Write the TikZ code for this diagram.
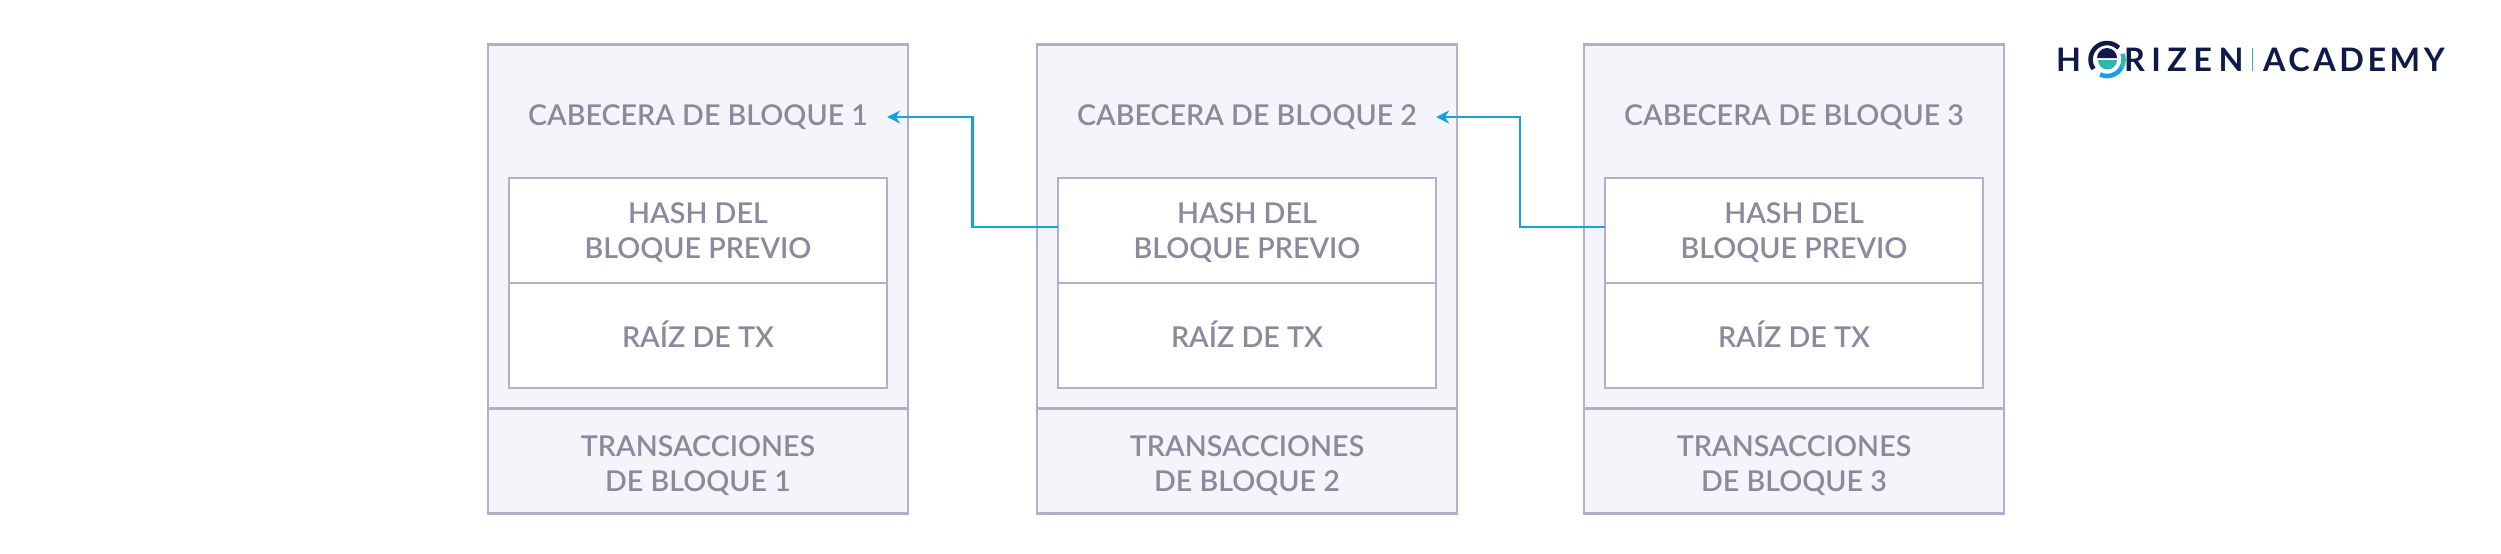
\documentclass[tikz,border=0pt]{standalone}
\usepackage{fontspec}
\setmainfont{Lato Semibold}
\newfontfamily\logofont[LetterSpace=20]{Lato Bold}
\newfontfamily\logotight[LetterSpace=11]{Lato Bold}
\usetikzlibrary{arrows.meta}
\definecolor{boxline}{HTML}{B0B0C6}
\definecolor{boxfill}{HTML}{F4F5FA}
\definecolor{boxtext}{HTML}{8A8A9C}
\definecolor{linkblue}{HTML}{1A9FE4}
\definecolor{logonavy}{HTML}{0E1B48}
\definecolor{logoteal}{HTML}{2FB5B0}
\tikzset{
    outerbox/.style={draw=boxline, fill=boxfill, line width=0.65pt, inner sep=0pt, outer sep=0pt, minimum width=4.2cm, text=boxtext, align=center, text depth=0pt, font=\fontsize{8.15}{10}\selectfont},
    innerbox/.style={outerbox, fill=white, minimum width=3.78cm, minimum height=1.05cm},
    boxlabel/.style={inner sep=0pt, outer sep=0pt, text=boxtext, align=center, font=\fontsize{8.15}{10}\selectfont},
    titletext/.style={boxlabel, minimum width=3.78cm, text height=5.8pt, text depth=1.15pt},
    linkarrow/.style={draw=linkblue, line width=0.65pt, -{Stealth[length=3.7pt,width=3.7pt]}},
    logotext/.style={inner sep=0pt, outer sep=0pt, anchor=west, text=logonavy, font=\logofont\fontsize{9.2}{10}\selectfont}
}
\begin{document}
\begin{tikzpicture}[x=0.01cm,y=-0.01cm]
    \useasboundingbox (0,0) rectangle (2501,553);

    % first block
    \node[outerbox, minimum height=3.64cm] (head1) at (698,226.5) {};
    \node[outerbox, minimum height=1.05cm] (txs1) at (698,461) {};
    \node[boxlabel] (txslabel1) at (698,466) {TRANSACCIONES\\DE BLOQUE 1};
    \node[titletext] (title1) at (698,117) {CABECERA DE BLOQUE 1};
    \node[innerbox] (hash1) at (698,230.5) {HASH DEL\\BLOQUE PREVIO};
    \node[innerbox] (root1) at (698,335.5) {};
    \node[boxlabel] (rootlabel1) at (698,334) {RAÍZ DE TX};

    % second block
    \node[outerbox, minimum height=3.64cm] (head2) at (1247,226.5) {};
    \node[outerbox, minimum height=1.05cm] (txs2) at (1247,461) {};
    \node[boxlabel] (txslabel2) at (1247,466) {TRANSACCIONES\\DE BLOQUE 2};
    \node[titletext] (title2) at (1247,117) {CABECERA DE BLOQUE 2};
    \node[innerbox] (hash2) at (1247,230.5) {HASH DEL\\BLOQUE PREVIO};
    \node[innerbox] (root2) at (1247,335.5) {};
    \node[boxlabel] (rootlabel2) at (1247,334) {RAÍZ DE TX};

    % third block
    \node[outerbox, minimum height=3.64cm] (head3) at (1794,226.5) {};
    \node[outerbox, minimum height=1.05cm] (txs3) at (1794,461) {};
    \node[boxlabel] (txslabel3) at (1794,466) {TRANSACCIONES\\DE BLOQUE 3};
    \node[titletext] (title3) at (1794,117) {CABECERA DE BLOQUE 3};
    \node[innerbox] (hash3) at (1794,230.5) {HASH DEL\\BLOQUE PREVIO};
    \node[innerbox] (root3) at (1794,335.5) {};
    \node[boxlabel] (rootlabel3) at (1794,334) {RAÍZ DE TX};

    % links between blocks
    \coordinate (bend1) at (972.5,170);
    \coordinate (bend2) at (1520,170);
    \draw[linkarrow] ([yshift=1pt]hash2.west) -| (bend1) |- (title1.east);
    \draw[linkarrow] ([yshift=1pt]hash3.west) -| (bend2) |- (title2.east);

    % logo
    \node[logotext] (logoh) at (2056,59.5) {H};
    \node[logotext] (logoname) at (2124,59.5) {RIZEN};
    \node[logotext, font=\logotight\fontsize{9.2}{10}\selectfont] (logoacademy) at (2263,59.5) {ACADEMY};
    \draw[logoteal, line width=0.3pt] (2252,48) -- (2252,71);
    \coordinate (logoring) at (2107,59.5);
    \draw[logonavy, line width=1.3pt] ([shift={(-215:16.5)}]logoring) arc (-215:-45:16.5);
    \draw[logoteal, line width=1.3pt] ([shift={(-20:16.5)}]logoring) arc (-20:25:16.5);
    \draw[linkblue, line width=1.3pt] ([shift={(25:16.5)}]logoring) arc (25:115:16.5);
    \fill[logonavy] (2097,58) arc (180:360:10) -- cycle;
    \fill[logoteal] (2098,60) arc (180:0:9.5) -- cycle;
\end{tikzpicture}
\end{document}
